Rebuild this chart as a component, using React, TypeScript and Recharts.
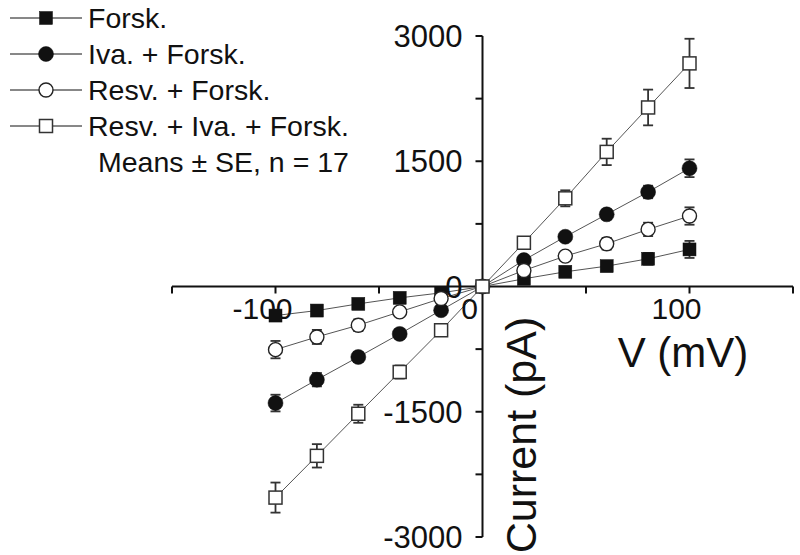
import React from 'react';
import {
  LineChart,
  Line,
  XAxis,
  YAxis,
  ReferenceLine,
  ReferenceDot,
  ErrorBar,
  Customized,
} from 'recharts';

// ---------- data ----------
const voltages = [-100, -80, -60, -40, -20, 0, 20, 40, 60, 80, 100];

const forsk = [-348, -288, -208, -136, -76, 0, 92, 176, 244, 332, 444];
const forskErr = [60, 50, 40, 30, 20, 15, 20, 40, 50, 70, 102];

const ivaForsk = [-1396, -1116, -844, -568, -284, 0, 316, 596, 864, 1132, 1416];
const ivaForskErr = [100, 80, 60, 50, 40, 15, 40, 50, 60, 75, 106];

const resvForsk = [-756, -604, -464, -304, -144, 0, 192, 364, 512, 684, 844];
const resvForskErr = [104, 84, 70, 50, 30, 15, 30, 50, 70, 80, 104];

const resvIvaForsk = [-2528, -2028, -1524, -1024, -524, 0, 524, 1056, 1612, 2144, 2672];
const resvIvaForskErr = [180, 140, 108, 78, 40, 20, 60, 96, 158, 214, 295];

const seriesNames = ['Forsk.', 'Iva. + Forsk.', 'Resv. + Forsk.', 'Resv. + Iva. + Forsk.'];
const noteText = 'Means \u00B1 SE, n = 17';

const xTicks = [-150, -100, -50, 0, 50, 100, 150];
const xTickLabels = [-100, 0, 100];
const yTicks = [-3000, -2250, -1500, -750, 0, 750, 1500, 2250, 3000];
const yTickLabels = [-3000, -1500, 0, 1500, 3000];

const xTitle = 'V (mV)';
const yTitle = 'Current (pA)';

// ---------- table built from arrays ----------
const tableData = voltages.map((v, i) => ({
  v,
  s0: forsk[i],
  e0: forskErr[i],
  s1: ivaForsk[i],
  e1: ivaForskErr[i],
  s2: resvForsk[i],
  e2: resvForskErr[i],
  s3: resvIvaForsk[i],
  e3: resvIvaForskErr[i],
}));

const FONT = '"Liberation Sans", Arial, Helvetica, sans-serif';
const INK = '#111';

// ---------- markers ----------
type MarkerKind = 'fsquare' | 'fcircle' | 'ocircle' | 'osquare';
const markerKinds: MarkerKind[] = ['fsquare', 'fcircle', 'ocircle', 'osquare'];

function Marker({ kind, cx, cy }: { kind: MarkerKind; cx: number; cy: number }) {
  const s = 13;
  const r = 7;
  switch (kind) {
    case 'fsquare':
      return <rect x={cx - s / 2} y={cy - s / 2} width={s} height={s} fill={INK} stroke={INK} strokeWidth={0.5} />;
    case 'fcircle':
      return <circle cx={cx} cy={cy} r={r + 0.5} fill={INK} stroke={INK} strokeWidth={0.5} />;
    case 'ocircle':
      return <circle cx={cx} cy={cy} r={r} fill="#fff" stroke="#222" strokeWidth={1.4} />;
    case 'osquare':
    default:
      return <rect x={cx - 6.5} y={cy - 6.5} width={13} height={13} fill="#fff" stroke="#333" strokeWidth={1.5} />;
  }
}

const makeDot = (kind: MarkerKind) => (props: any) => {
  const { cx, cy, index } = props;
  if (cx == null || cy == null) return <g key={`d-${kind}-${index}`} />;
  return (
    <g key={`d-${kind}-${index}`}>
      <Marker kind={kind} cx={cx} cy={cy} />
    </g>
  );
};

// ---------- axis pieces via reference dots ----------
const XTickShape = (label: string | null) => (p: any) => {
  const { cx, cy } = p;
  return (
    <g>
      <line x1={cx} y1={cy} x2={cx} y2={cy + 7} stroke={INK} strokeWidth={2} />
      {label !== null && (
        <text x={cx - 13} y={cy + 22 + 0.358 * 30} textAnchor="middle" fontSize={30} fontFamily={FONT} fill={INK}>
          {label}
        </text>
      )}
    </g>
  );
};

const YTickShape = (label: string | null) => (p: any) => {
  const { cx, cy } = p;
  return (
    <g>
      <line x1={cx - 7} y1={cy} x2={cx} y2={cy} stroke={INK} strokeWidth={2} />
      {label !== null && (
        <text x={cx - 20} y={cy + 0.358 * 31} textAnchor="end" fontSize={31} fontFamily={FONT} fill={INK}>
          {label}
        </text>
      )}
    </g>
  );
};

// ---------- legend + titles ----------
function Overlay() {
  const rowY = [18, 54, 90, 126];
  return (
    <g>
      {seriesNames.map((name, i) => (
        <g key={name}>
          <line x1={10} y1={rowY[i]} x2={82} y2={rowY[i]} stroke={INK} strokeWidth={1} />
          <Marker kind={markerKinds[i]} cx={46} cy={rowY[i]} />
          <text x={88} y={rowY[i] + 0.358 * 28.5} fontSize={28.5} fontFamily={FONT} fill={INK}>
            {name}
          </text>
        </g>
      ))}
      <text x={98} y={162 + 0.358 * 28.5} fontSize={28.5} fontFamily={FONT} fill={INK}>
        {noteText}
      </text>
      <text x={683} y={352 + 0.358 * 42} textAnchor="middle" fontSize={42} fontFamily={FONT} fill={INK}>
        {xTitle}
      </text>
      <text
        x={521}
        y={435 + 0.358 * 42}
        textAnchor="middle"
        fontSize={43}
        fontFamily={FONT}
        fill={INK}
        transform={`rotate(-90, 521, 435)`}
      >
        {yTitle}
      </text>
    </g>
  );
}

export default function App() {
  const keys = ['s0', 's1', 's2', 's3'];
  const errKeys = ['e0', 'e1', 'e2', 'e3'];
  return (
    <div style={{ position: 'absolute', left: 0, top: 0, background: '#fff' }}>
      <LineChart
        width={800}
        height={555}
        data={tableData}
        margin={{ top: 36, right: 7, bottom: 18, left: 172 }}
        style={{ background: '#fff' }}
      >
        <XAxis dataKey="v" type="number" domain={[-150, 150]} ticks={xTicks} hide />
        <YAxis type="number" domain={[-3000, 3000]} ticks={yTicks} hide />

        <ReferenceLine y={0} stroke={INK} strokeWidth={2} ifOverflow="visible" />
        <ReferenceLine x={0} stroke={INK} strokeWidth={2} ifOverflow="visible" />

        {xTicks.map((t) => (
          <ReferenceDot
            key={`xt${t}`}
            x={t}
            y={0}
            ifOverflow="visible"
            shape={XTickShape(xTickLabels.includes(t) ? String(t) : null)}
          />
        ))}
        {yTicks.map((t) => (
          <ReferenceDot
            key={`yt${t}`}
            x={0}
            y={t}
            ifOverflow="visible"
            shape={YTickShape(yTickLabels.includes(t) ? String(t) : null)}
          />
        ))}

        {keys.map((k, i) => (
          <Line
            key={k}
            dataKey={k}
            name={seriesNames[i]}
            stroke="#555"
            strokeWidth={1}
            dot={makeDot(markerKinds[i])}
            activeDot={false}
            isAnimationActive={false}
          />
        ))}
        {keys.map((k, i) => (
          <Line
            key={`${k}-err`}
            dataKey={k}
            stroke="none"
            dot={false}
            activeDot={false}
            legendType="none"
            isAnimationActive={false}
          >
            <ErrorBar dataKey={errKeys[i]} direction="y" width={5} stroke="#333" strokeWidth={1.8} />
          </Line>
        ))}

        <Customized component={<Overlay />} />
      </LineChart>
    </div>
  );
}
